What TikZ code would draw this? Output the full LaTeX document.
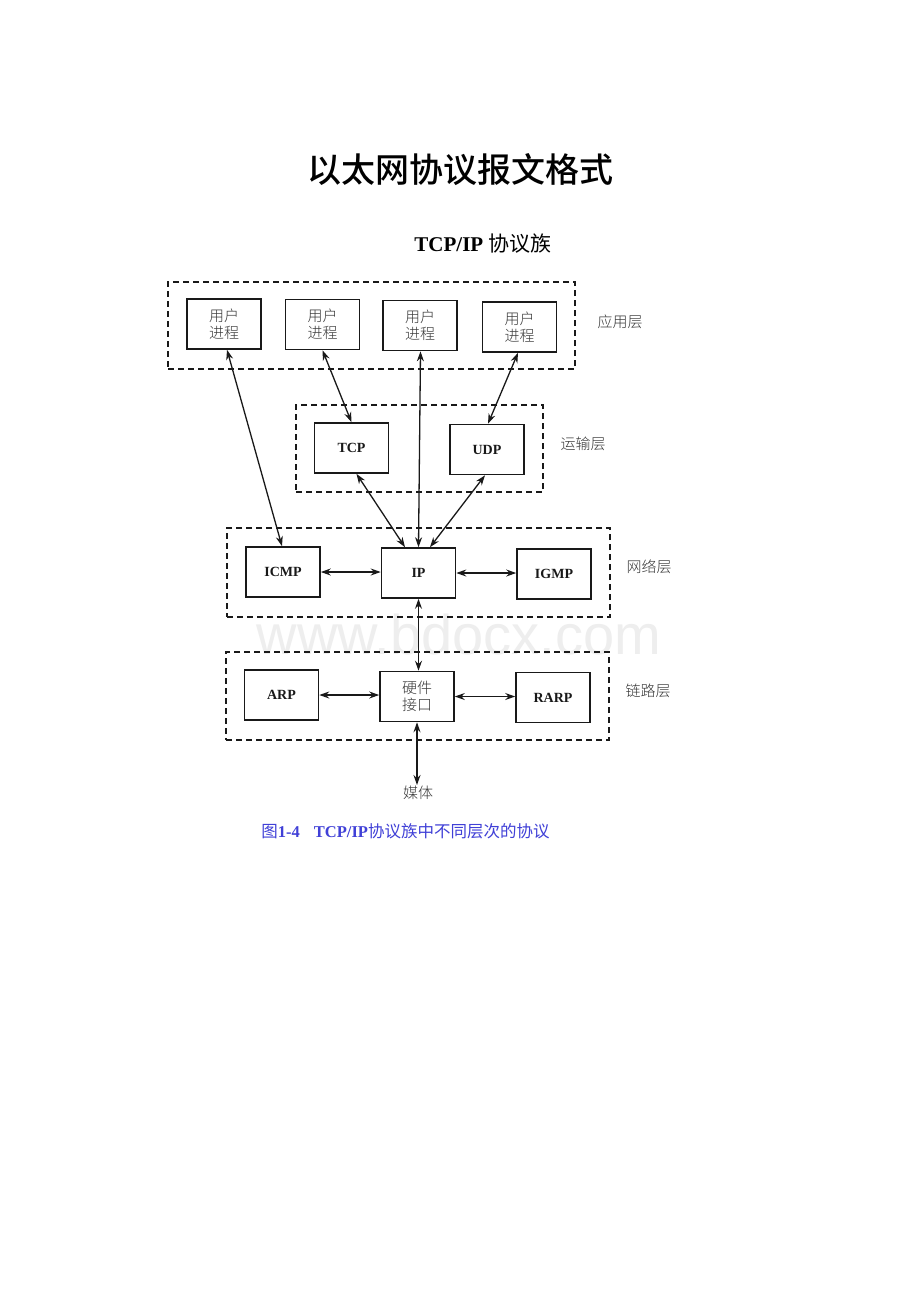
\documentclass[tikz,border=0pt]{standalone}
\usepackage{fontspec}
\setmainfont{Liberation Serif}
\newfontfamily\cjk{Noto Sans CJK SC}
\newfontfamily\cjkl{Noto Sans CJK SC Light}
\newfontfamily\cjkm{Noto Sans CJK SC Medium}
\newfontfamily\wmfont{Liberation Sans}
\usetikzlibrary{arrows.meta}
\definecolor{inkc}{RGB}{25,25,25}
\definecolor{txtc}{RGB}{55,55,55}
\definecolor{capc}{RGB}{64,64,215}
\definecolor{wmc}{RGB}{238,238,238}
\begin{document}
\begin{tikzpicture}[x=1pt,y=-1pt,
  pbox/.style={draw=inkc,line width=1.6pt,minimum width=74pt,minimum height=50pt,inner sep=0pt,align=center},
  ubox/.style={pbox,font=\cjkl\fontsize{15}{17}\selectfont,text=txtc},
  lbox/.style={pbox,font=\bfseries\fontsize{14}{17}\selectfont,text=inkc},
  layer/.style={draw=inkc,line width=1.3pt,dash pattern=on 6pt off 4pt,inner sep=0pt},
  lab/.style={font=\cjkl\fontsize{15}{17}\selectfont,text=txtc},
  arr/.style={line width=1.3pt,draw=inkc,{Stealth[length=10pt,width=7pt]}-{Stealth[length=10pt,width=7pt]}}
]
\useasboundingbox (0,0) rectangle (920,1302);
\fill[white] (0,0) rectangle (920,1302);

% watermark
\node[text=wmc,font=\wmfont\fontsize{56}{60}\selectfont] (wm) at (459,634) {www.bdocx.com};

% titles
\node[font=\cjkm\fontsize{34}{38}\selectfont] (title) at (460,170) {以太网协议报文格式};
\node (sub) at (483,244) {\fontsize{21}{24}\selectfont\bfseries TCP/IP {\cjk\mdseries 协议族}};

% layer dashed boxes
\node[layer,minimum width=407pt,minimum height=87pt] (appL) at (371.5,325.5) {};
\node[layer,minimum width=247pt,minimum height=87pt] (trL) at (419.5,448.5) {};
\node[layer,minimum width=383pt,minimum height=89pt] (netL) at (418.5,572.5) {};
\node[layer,minimum width=383pt,minimum height=88pt] (linkL) at (417.5,696) {};

% application layer
\node[ubox] (u1) at (224,324) {用户\\进程};
\node[ubox] (u2) at (322.5,324.5) {用户\\进程};
\node[ubox] (u3) at (420,325.5) {用户\\进程};
\node[ubox] (u4) at (519.5,327) {用户\\进程};
\node[lab] (la) at (620,322) {应用层};

% transport
\node[lbox] (tcp) at (351.5,448) {TCP};
\node[lbox] (udp) at (487,449.5) {UDP};
\node[lab] (lt) at (583,444) {运输层};

% network
\node[lbox] (icmp) at (283,572) {ICMP};
\node[lbox] (ip) at (418.5,573) {IP};
\node[lbox] (igmp) at (554,574) {IGMP};
\node[lab] (ln) at (649,567) {网络层};

% link
\node[lbox] (arp) at (281.5,695) {ARP};
\node[ubox] (hw) at (417,696.5) {硬件\\接口};
\node[lbox] (rarp) at (553,697.5) {RARP};
\node[lab] (ll) at (648,691) {链路层};

\node[lab,inner sep=1pt] (media) at (418,793) {媒体};

% caption
\node[text=capc] (cap) at (405.5,831) {\fontsize{16.5}{19}\selectfont{\cjk 图}\textbf{1-4}\hspace{14pt}\textbf{TCP/IP}{\cjk 协议族中不同层次的协议}};

% connectors
\draw[arr] ([xshift=3pt]u1.south) -- ([xshift=-1pt]icmp.north);
\draw[arr] (u2.south) -- (tcp.north);
\draw[arr] ([xshift=0.5pt]u3.south) -- ([xshift=0pt]ip.north);
\draw[arr] ([xshift=-1.5pt]u4.south) -- ([xshift=1pt]udp.north);
\draw[arr] ([xshift=5pt]tcp.south) -- ([xshift=-13.5pt]ip.north);
\draw[arr] ([xshift=-2pt]udp.south) -- ([xshift=11.5pt]ip.north);
\draw[arr] (icmp.east) -- (icmp.east -| ip.west);
\draw[arr] (ip.east) -- (ip.east -| igmp.west);
\draw[arr] (ip.south) -- (ip.south |- hw.north);
\draw[arr] (arp.east) -- (arp.east -| hw.west);
\draw[arr] (hw.east) -- (hw.east -| rarp.west);
\draw[arr] (hw.south) -- (hw.south |- media.north);
\end{tikzpicture}
\end{document}
